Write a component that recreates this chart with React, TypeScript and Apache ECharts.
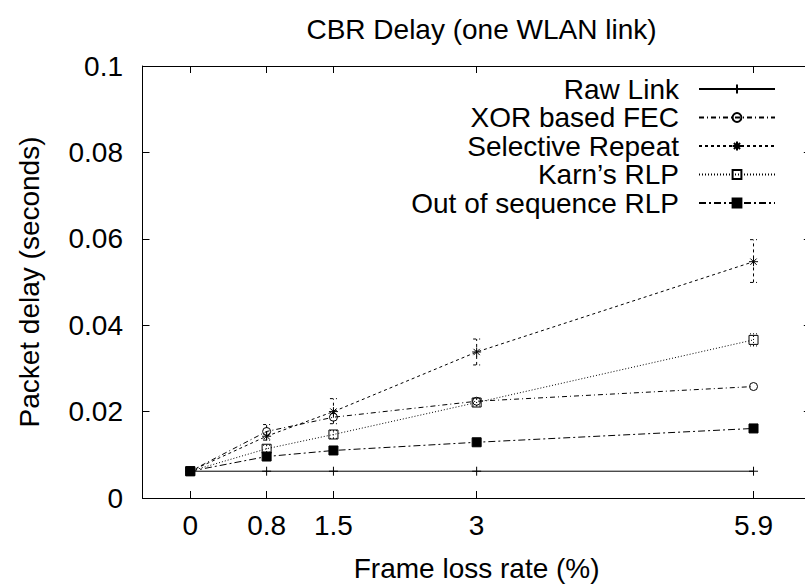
import React, { useEffect, useRef } from "react";
import * as echarts from "echarts";

const lossRates = [0, 0.8, 1.5, 3, 5.9];
const xTickValues = [0, 0.8, 1.5, 3, 5.9];

const rawLink = [0.0062, 0.0062, 0.0062, 0.0062, 0.0062];
const xorFec = [0.0062, 0.0154, 0.0187, 0.0224, 0.0258];
const selRepeat = [0.0062, 0.0143, 0.02, 0.0338, 0.0547];
const karnRlp = [0.0062, 0.0114, 0.0147, 0.0221, 0.0366];
const oosRlp = [0.0062, 0.0096, 0.011, 0.0129, 0.0161];

const selRepeatLow = [0.0062, 0.0134, 0.0172, 0.0308, 0.0499];
const selRepeatHigh = [0.0062, 0.017, 0.023, 0.0368, 0.0598];
const karnLow = [0.0062, 0.0106, 0.0138, 0.0213, 0.0352];
const karnHigh = [0.0062, 0.0122, 0.0156, 0.023, 0.038];

const names = ["Raw Link", "XOR based FEC", "Selective Repeat", "Karn\u2019s RLP", "Out of sequence RLP"];

const FONT = "Liberation Sans, Arial, Helvetica, sans-serif";
const FS = 28;

const SYM_PLUS = "path://M0,5L10,5M5,0L5,10";
const SYM_CIRCLE = "path://M10,5A5,5,0,1,1,0,5A5,5,0,1,1,10,5Z";
const SYM_STAR = "path://M0,5L10,5M5,0L5,10M1.5,1.5L8.5,8.5M1.5,8.5L8.5,1.5";
const SYM_BOX = "path://M0,0L10,0L10,10L0,10Z";

const dashes: (number[] | "solid")[] = ["solid", [5, 3, 1, 3], [3, 3], [1, 2], [7, 3, 2, 3]];

function pairs(vals: number[]) {
  return lossRates.map((x, i) => [x, vals[i]]);
}

function errData(lo: number[], hi: number[]) {
  return lossRates.map((x, i) => [x, lo[i], hi[i]]).filter((d) => d[2] - d[1] > 0);
}

export default function App() {
  const ref = useRef<HTMLDivElement>(null);
  useEffect(() => {
    if (!ref.current) return;
    const chart = echarts.init(ref.current, null, { renderer: "svg" });

    const lineSeries = (i: number, vals: number[], symbol: string, size: number, filled: boolean) => ({
      type: "line",
      name: names[i],
      data: pairs(vals),
      symbol,
      symbolSize: size,
      showSymbol: true,
      showAllSymbol: true,
      lineStyle: { color: "#000", width: 1, type: dashes[i] },
      itemStyle: { color: filled ? "#000" : "none", borderColor: "#000", borderWidth: 1 },
      z: 3,
    });

    const errSeries = (lo: number[], hi: number[], dash: any) => ({
      type: "custom",
      data: errData(lo, hi),
      encode: { x: 0, y: [1, 2] },
      silent: true,
      z: 2,
      renderItem: (params: any, api: any) => {
        const x = api.value(0);
        const p1 = api.coord([x, api.value(1)]);
        const p2 = api.coord([x, api.value(2)]);
        const w = 3.5;
        const style = { stroke: "#000", lineWidth: 1, lineDash: dash, fill: null };
        return {
          type: "group",
          children: [
            { type: "line", shape: { x1: p1[0], y1: p1[1], x2: p2[0], y2: p2[1] }, style },
            { type: "line", shape: { x1: p1[0] - w, y1: p1[1], x2: p1[0] + w, y2: p1[1] }, style },
            { type: "line", shape: { x1: p2[0] - w, y1: p2[1], x2: p2[0] + w, y2: p2[1] }, style },
          ],
        };
      },
    });

    const legendTops = [70, 98.5, 127, 155.5, 184];
    const legends = names.map((n, i) => ({
      data: [n],
      orient: "vertical",
      align: "right",
      right: 24,
      top: legendTops[i],
      itemWidth: 76,
      itemHeight: 11,
      selectedMode: false,
      textStyle: { fontFamily: FONT, fontSize: FS, color: "#000", padding: [0, 15, 0, 0] },
    }));

    const axisCommon = {
      type: "value",
      axisLine: { show: true, onZero: false, lineStyle: { color: "#000", width: 1 } },
      splitLine: { show: false },
    };

    chart.setOption({
      animation: false,
      backgroundColor: "#fff",
      title: {
        text: "CBR Delay (one WLAN link)",
        left: 476.5,
        textAlign: "center",
        top: 10,
        textStyle: { fontFamily: FONT, fontSize: FS, fontWeight: "normal", color: "#000" },
      },
      legend: legends,
      grid: { left: 142.5, top: 66, width: 668.3, height: 432, containLabel: false, outerBoundsMode: "none" },
      xAxis: [
        {
          ...axisCommon,
          position: "bottom",
          min: -0.5,
          max: 6.5,
          axisTick: { show: true, inside: true, length: 7, lineStyle: { color: "#000" }, customValues: xTickValues },
          axisLabel: {
            show: true,
            customValues: xTickValues,
            fontFamily: FONT,
            fontSize: FS,
            color: "#000",
            margin: 13,
          },
          name: "Frame loss rate (%)",
          nameLocation: "middle",
          nameGap: 56,
          nameTextStyle: { fontFamily: FONT, fontSize: FS, color: "#000" },
        },
        {
          ...axisCommon,
          position: "top",
          min: -0.5,
          max: 6.5,
          axisTick: { show: true, inside: true, length: 7, lineStyle: { color: "#000" }, customValues: xTickValues },
          axisLabel: { show: false },
        },
      ],
      yAxis: [
        {
          ...axisCommon,
          position: "left",
          min: 0,
          max: 0.1,
          interval: 0.02,
          axisTick: { show: true, inside: true, length: 7, lineStyle: { color: "#000" } },
          axisLabel: { show: true, fontFamily: FONT, fontSize: FS, color: "#000", margin: 19.5 },
          name: "Packet delay (seconds)",
          nameLocation: "middle",
          nameGap: 99.5,
          nameTextStyle: { fontFamily: FONT, fontSize: FS, color: "#000" },
        },
        {
          ...axisCommon,
          position: "right",
          min: 0,
          max: 0.1,
          interval: 0.02,
          axisTick: { show: true, inside: true, length: 7, lineStyle: { color: "#000" } },
          axisLabel: { show: false },
        },
      ],
      series: [
        errSeries(selRepeatLow, selRepeatHigh, [3, 3]),
        errSeries(karnLow, karnHigh, [1, 2]),
        lineSeries(0, rawLink, SYM_PLUS, 9, false),
        lineSeries(1, xorFec, SYM_CIRCLE, 8, false),
        lineSeries(2, selRepeat, SYM_STAR, 9, false),
        lineSeries(3, karnRlp, SYM_BOX, 9, false),
        lineSeries(4, oosRlp, "rect", 9, true),
      ],
    });
    return () => chart.dispose();
  }, []);
  return <div ref={ref} style={{ position: "fixed", left: 0, top: 0, width: 805, height: 584 }} />;
}
